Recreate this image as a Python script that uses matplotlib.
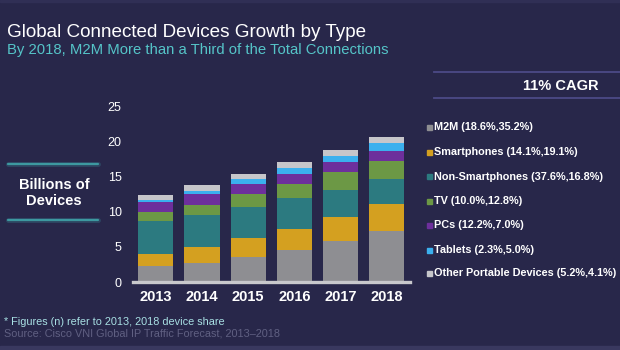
import matplotlib
matplotlib.use("Agg")
import matplotlib.pyplot as plt
import numpy as np

plt.rcParams['font.family'] = ['Liberation Sans', 'DejaVu Sans']

years = ["2013", "2014", "2015", "2016", "2017", "2018"]
series_names = ["M2M", "Smartphones", "Non-Smartphones", "TV", "PCs", "Tablets",
                "Other Portable Devices"]
legend_labels = ["M2M (18.6%,35.2%)", "Smartphones (14.1%,19.1%)",
                 "Non-Smartphones (37.6%,16.8%)", "TV (10.0%,12.8%)",
                 "PCs (12.2%,7.0%)", "Tablets (2.3%,5.0%)",
                 "Other Portable Devices (5.2%,4.1%)"]
m2m = [2.3, 2.7, 3.6, 4.6, 5.8, 7.2]
smartphones = [1.7, 2.3, 2.6, 3.0, 3.5, 3.9]
non_smartphones = [4.7, 4.5, 4.5, 4.3, 3.8, 3.5]
tv = [1.2, 1.5, 1.8, 2.0, 2.5, 2.6]
pcs = [1.5, 1.5, 1.4, 1.5, 1.4, 1.45]
tablets = [0.3, 0.5, 0.7, 0.8, 0.95, 1.05]
other = [0.65, 0.75, 0.8, 0.8, 0.85, 0.85]
colors = ["#8e8e92", "#d4a020", "#2c7a80", "#6c9845", "#6d2f9c", "#3bb0ee", "#c6c6ca"]

yticks = [0, 5, 10, 15, 20, 25]

bg = "#28274a"
fig = plt.figure(figsize=(6.2, 3.5), dpi=100, facecolor=bg)

# edge strips
fig.patches.append(plt.Rectangle((0, 0), 1, 4.5 / 350, transform=fig.transFigure,
                                 color='#39385f', zorder=0))
fig.patches.append(plt.Rectangle((0, 1 - 2 / 350), 1, 2 / 350, transform=fig.transFigure,
                                 color='#302f55', zorder=0))

ax = fig.add_axes([0.214, 0.194, 0.447, 0.503], facecolor=bg)

data = [m2m, smartphones, non_smartphones, tv, pcs, tablets, other]
x = np.arange(len(years))
bottom = np.zeros(len(years))
for vals, c in zip(data, colors):
    ax.bar(x, vals, width=0.76, bottom=bottom, color=c, edgecolor='none', zorder=2)
    bottom += np.array(vals)

ax.set_xlim(-0.5, 5.5)
ax.set_ylim(0, 25)
ax.set_yticks(yticks)
ax.set_yticklabels([str(t) for t in yticks], color='white', fontsize=9)
ax.set_xticks(x)
ax.set_xticklabels(years, color='white', fontsize=10.5, fontweight='bold')
ax.tick_params(axis='both', length=0)
ax.tick_params(axis='y', pad=8)
ax.tick_params(axis='x', pad=6)
for s in ['top', 'right', 'left']:
    ax.spines[s].set_visible(False)
ax.spines['bottom'].set_color('#c8c8cc')
ax.spines['bottom'].set_linewidth(2.4)
ax.set_clip_on(False)

# Titles
fig.text(0.011, 0.895, "Global Connected Devices Growth by Type", color='white',
         fontsize=13.6, va='baseline', ha='left')
fig.text(0.011, 0.845, "By 2018, M2M More than a Third of the Total Connections",
         color='#55c4c8', fontsize=10.7, va='baseline', ha='left')

# CAGR band
for yy in [1 - 72 / 350, 1 - 97.5 / 350]:
    fig.add_artist(plt.Line2D([0.70, 1.0], [yy, yy], color='#4c4a86', lw=1.3,
                              transform=fig.transFigure))
fig.text(0.905, 1 - 86.5 / 350, "11% CAGR", color='white', fontsize=10.5,
         fontweight='bold', ha='center', va='center')

# Legend
leg_y = [127.3, 152, 176.7, 201, 225.5, 250, 273.5]
for lab, c, yy in zip(legend_labels, colors, leg_y):
    fy = 1 - yy / 350
    fig.patches.append(plt.Rectangle((427 / 620, fy - 2.5 / 350), 5 / 620, 5 / 350,
                                     transform=fig.transFigure, color=c))
    fig.text(434 / 620, fy, lab, color='white', fontsize=7.85, fontweight='bold',
             ha='left', va='center')

# Y label
fig.text(54 / 620, 1 - 193 / 350, "Billions of\nDevices", color='white',
         fontsize=10.5, fontweight='bold', ha='center', va='center',
         linespacing=1.15)
for yy in [164.3, 220]:
    fy = 1 - yy / 350
    for lw, a in [(3.5, 0.25), (1.6, 0.9)]:
        fig.add_artist(plt.Line2D([8 / 620, 98 / 620], [fy, fy], color='#3fa2a8',
                                  lw=lw, alpha=a, solid_capstyle='round',
                                  transform=fig.transFigure))

# Footnotes
fig.text(0.006, 1 - 322 / 350, "* Figures (n) refer to 2013, 2018 device share",
         color='#a8e0e4', fontsize=7.8, ha='left', va='center')
fig.text(0.006, 1 - 334 / 350, "Source: Cisco VNI Global IP Traffic Forecast, 2013\u20132018",
         color='#606082', fontsize=7.8, ha='left', va='center')

fig.savefig("out.png", dpi=100, facecolor=bg)
